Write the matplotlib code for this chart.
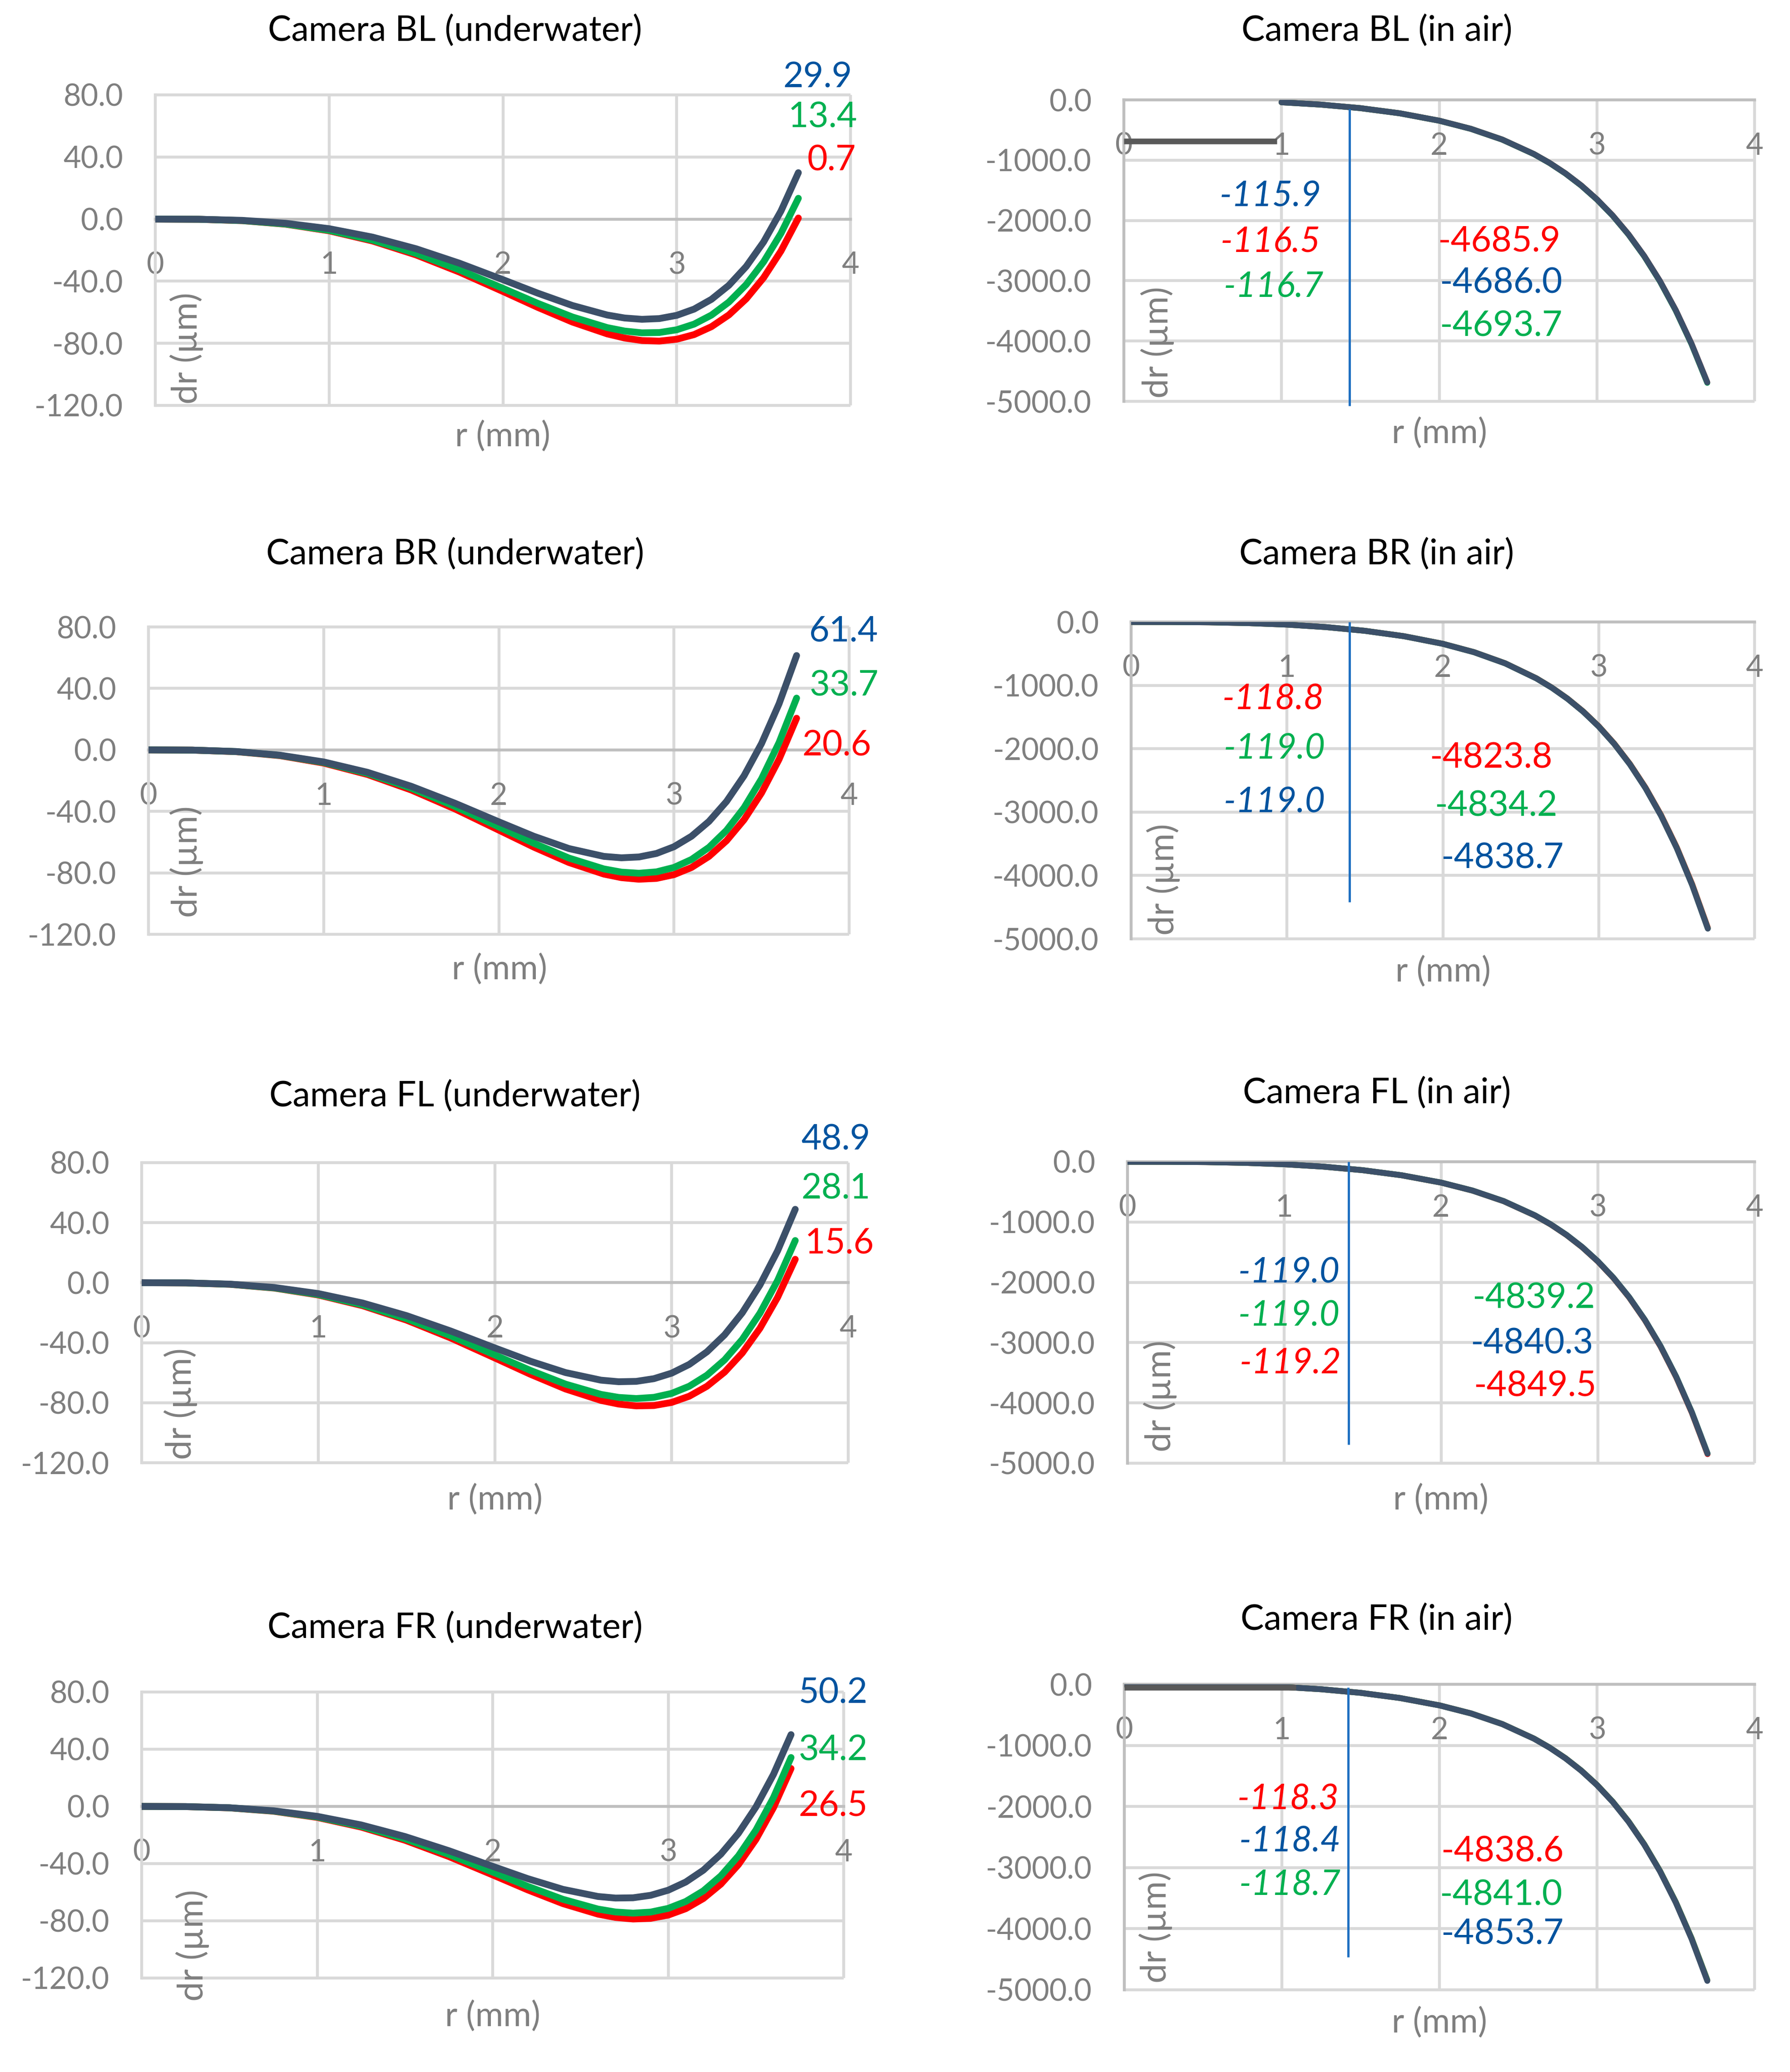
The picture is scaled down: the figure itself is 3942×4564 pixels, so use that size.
import matplotlib
matplotlib.use("Agg")
import matplotlib.pyplot as plt

plt.rcParams['font.family'] = ['Lato', 'DejaVu Sans']

# ---------------- data ----------------
R = [0, 0.25, 0.5, 0.75, 1.0, 1.25, 1.5, 1.75, 2.0, 2.2, 2.4, 2.6, 2.7, 2.8, 2.9,
     3.0, 3.1, 3.2, 3.3, 3.4, 3.5, 3.6, 3.7]
R_BL_AIR = [1.0, 1.25, 1.5, 1.75, 2.0, 2.2, 2.4, 2.6, 2.7, 2.8, 2.9,
            3.0, 3.1, 3.2, 3.3, 3.4, 3.5, 3.6, 3.7]

# underwater (um)
BL_UW_DARK = [0, -0.10, -0.81, -2.68, -6.17, -11.61, -19.09, -28.41, -39.00, -47.68, -55.65, -61.78,
              -63.69, -64.54, -64.07, -61.99, -57.98, -51.67, -42.67, -30.52, -14.74, 5.21, 29.9]
BL_UW_GREEN = [0, -0.12, -0.96, -3.16, -7.25, -13.56, -22.15, -32.72, -44.60, -54.24, -63.05, -69.88,
               -72.10, -73.24, -73.06, -71.29, -67.65, -61.82, -53.46, -42.17, -27.56, -9.18, 13.4]
BL_UW_RED = [0, -0.13, -1.00, -3.29, -7.54, -14.11, -23.06, -34.12, -46.60, -56.82, -66.31, -73.93,
             -76.59, -78.22, -78.57, -77.39, -74.40, -69.29, -61.73, -51.35, -37.77, -20.56, 0.7]

BR_UW_DARK = [0, -0.13, -1.04, -3.42, -7.83, -14.58, -23.68, -34.73, -46.80, -56.21, -64.19, -69.30,
              -70.21, -69.67, -67.39, -63.02, -56.19, -46.52, -33.56, -16.84, 4.17, 30.04, 61.4]
BR_UW_GREEN = [0, -0.14, -1.08, -3.56, -8.17, -15.28, -24.94, -36.82, -50.10, -60.78, -70.37, -77.47,
               -79.54, -80.26, -79.36, -76.49, -71.31, -63.40, -52.34, -37.63, -18.78, 4.80, 33.7]
BR_UW_RED = [0, -0.14, -1.14, -3.74, -8.57, -16.00, -26.08, -38.43, -52.20, -63.27, -73.27, -80.82,
             -83.14, -84.16, -83.62, -81.18, -76.53, -69.30, -59.09, -45.46, -27.98, -6.12, 20.6]

FL_UW_DARK = [0, -0.12, -0.96, -3.17, -7.26, -13.52, -21.97, -32.23, -43.50, -52.32, -59.91, -64.95,
              -66.00, -65.76, -63.96, -60.30, -54.46, -46.08, -34.76, -20.08, -1.58, 21.23, 48.9]
FL_UW_GREEN = [0, -0.13, -1.04, -3.44, -7.89, -14.75, -24.05, -35.47, -48.20, -58.43, -67.62, -74.44,
               -76.45, -77.19, -76.41, -73.79, -69.01, -61.68, -51.43, -37.82, -20.36, 1.43, 28.1]
FL_UW_RED = [0, -0.14, -1.08, -3.57, -8.19, -15.30, -24.97, -36.87, -50.20, -61.00, -70.86, -78.45,
             -80.89, -82.11, -81.86, -79.81, -75.66, -69.05, -59.60, -46.88, -30.44, -9.80, 15.6]

FR_UW_DARK = [0, -0.12, -0.92, -3.02, -6.93, -12.93, -21.05, -30.96, -41.90, -50.52, -57.98, -62.98,
              -64.07, -63.88, -62.16, -58.60, -52.88, -44.62, -33.41, -18.83, -0.40, 22.42, 50.2]
FR_UW_GREEN = [0, -0.12, -0.97, -3.21, -7.38, -13.83, -22.66, -33.59, -45.90, -55.89, -64.96, -71.78,
               -73.83, -74.63, -73.89, -71.30, -66.49, -59.08, -48.60, -34.59, -16.52, 6.20, 34.2]
FR_UW_RED = [0, -0.13, -1.01, -3.35, -7.70, -14.43, -23.64, -35.04, -47.90, -58.38, -67.96, -75.32,
             -77.64, -78.72, -78.28, -75.99, -71.51, -64.43, -54.33, -40.72, -23.10, -0.89, 26.5]

# in air (um)
BL_AIR_DARK = [-40.01, -78.42, -137.05, -222.59, -345.0, -479.47, -658.46, -897.70, -1046.35, -1218.62,
               -1418.35, -1649.96, -1918.48, -2229.67, -2590.04, -3006.99, -3488.84, -4044.99, -4686.0]
BL_AIR_RED = [-40.0, -78.4, -137.1, -222.6, -345.1, -479.5, -658.5, -897.7, -1046.3, -1218.6,
              -1418.3, -1649.9, -1918.4, -2229.6, -2590.0, -3006.9, -3488.8, -4044.9, -4685.9]
BL_AIR_GREEN = [-40.1, -78.6, -137.3, -222.9, -345.5, -480.1, -659.3, -898.8, -1047.6, -1220.1,
                -1420.1, -1652.0, -1920.9, -2232.6, -2593.6, -3011.4, -3494.3, -4051.6, -4693.7]

BR_AIR_DARK = [0, -0.66, -5.29, -17.70, -41.60, -80.77, -139.69, -224.57, -345.0, -477.00, -653.25,
               -890.50, -1039.0, -1212.13, -1414.14, -1649.96, -1925.24, -2246.47, -2621.05, -3057.45,
               -3565.11, -4154.83, -4838.7]
BR_AIR_RED = [0, -0.66, -5.28, -17.68, -41.55, -80.68, -139.5, -224.2, -344.4, -476.1, -651.9,
              -888.6, -1036.7, -1209.2, -1410.5, -1645.4, -1919.5, -2239.4, -2612.3, -3046.8,
              -3552.3, -4139.5, -4823.8]
BR_AIR_GREEN = [0, -0.66, -5.29, -17.70, -41.59, -80.75, -139.65, -224.5, -344.8, -476.8, -652.9,
                -890.0, -1038.3, -1211.2, -1413.0, -1648.5, -1923.4, -2244.2, -2618.3, -3054.1,
                -3561.0, -4149.9, -4834.2]

FL_AIR_DARK = [0, -0.67, -5.29, -17.71, -41.62, -80.80, -139.74, -224.64, -345.1, -477.1, -653.3,
               -890.5, -1039.0, -1212.1, -1414.1, -1649.98, -1925.3, -2246.7, -2621.4, -3058.0,
               -3565.96, -4156.0, -4840.3]
FL_AIR_GREEN = [0, -0.67, -5.29, -17.71, -41.62, -80.80, -139.74, -224.64, -345.1, -477.1, -653.3,
                -890.5, -1039.0, -1212.1, -1414.1, -1650.0, -1925.2, -2246.6, -2621.2, -3057.7,
                -3565.5, -4155.2, -4839.2]
FL_AIR_RED = [0, -0.67, -5.30, -17.74, -41.70, -80.95, -140.0, -225.0, -345.7, -477.9, -654.4,
              -891.9, -1040.7, -1214.1, -1416.5, -1652.8, -1928.7, -2250.9, -2626.4, -3064.0,
              -3573.1, -4164.3, -4849.5]

FR_AIR_DARK = [0, -0.67, -5.32, -17.78, -41.76, -81.00, -139.95, -224.77, -345.0, -476.76, -652.75,
               -889.81, -1038.30, -1211.51, -1413.75, -1649.99, -1925.93, -2248.15, -2624.14, -3062.46,
               -3572.65, -4165.67, -4853.7]
FR_AIR_RED = [0, -0.67, -5.31, -17.75, -41.70, -80.90, -139.8, -224.5, -344.6, -476.1, -651.8,
              -888.4, -1036.6, -1209.4, -1411.2, -1646.9, -1922.1, -2243.5, -2618.4, -3055.4,
              -3564.0, -4155.2, -4838.6]
FR_AIR_GREEN = [0, -0.67, -5.31, -17.76, -41.72, -80.93, -139.85, -224.6, -344.7, -476.3, -652.0,
                -888.7, -1036.9, -1209.8, -1411.7, -1647.5, -1922.8, -2244.4, -2619.5, -3056.6,
                -3565.5, -4157.0, -4841.0]

# gray segments seen in two in-air panels: (x0, x1, y)
BL_AIR_GRAY = (0.0, 0.97, -686.0)
FR_AIR_GRAY = (0.0, 1.09, -49.0)

# vertical marker lines (x, y_top, y_bottom)
BL_AIR_VLINE = (1.43, -150, -5075)
BR_AIR_VLINE = (1.40, 0, -4420)
FL_AIR_VLINE = (1.41, 0, -4690)
FR_AIR_VLINE = (1.42, -49, -4468)

# value labels: (text, x, y, series, italic)
BL_UW_LABELS = [("29.9", 3.81, 91.0, 'dark', False), ("13.4", 3.84, 65.3, 'green', False),
                ("0.7", 3.89, 37.6, 'red', False)]
BR_UW_LABELS = [("61.4", 3.97, 77.0, 'dark', False), ("33.7", 3.97, 41.5, 'green', False),
                ("20.6", 3.93, 2.7, 'red', False)]
FL_UW_LABELS = [("48.9", 3.93, 95.0, 'dark', False), ("28.1", 3.93, 62.3, 'green', False),
                ("15.6", 3.95, 26.2, 'red', False)]
FR_UW_LABELS = [("50.2", 3.94, 79.0, 'dark', False), ("34.2", 3.94, 39.0, 'green', False),
                ("26.5", 3.94, 0.0, 'red', False)]
BL_AIR_LABELS = [("-115.9", 0.93, -1600, 'dark', True), ("-116.5", 0.93, -2355, 'red', True),
                 ("-116.7", 0.95, -3100, 'green', True), ("-4685.9", 2.38, -2355, 'red', False),
                 ("-4686.0", 2.39, -3040, 'dark', False), ("-4693.7", 2.39, -3760, 'green', False)]
BR_AIR_LABELS = [("-118.8", 0.91, -1220, 'red', True), ("-119.0", 0.92, -2003, 'green', True),
                 ("-119.0", 0.92, -2848, 'dark', True), ("-4823.8", 2.31, -2150, 'red', False),
                 ("-4834.2", 2.34, -2905, 'green', False), ("-4838.7", 2.38, -3735, 'dark', False)]
FL_AIR_LABELS = [("-119.0", 1.03, -1838, 'dark', True), ("-119.0", 1.03, -2560, 'green', True),
                 ("-119.2", 1.04, -3350, 'red', True), ("-4839.2", 2.59, -2270, 'green', False),
                 ("-4840.3", 2.58, -3020, 'dark', False), ("-4849.5", 2.60, -3730, 'red', False)]
FR_AIR_LABELS = [("-118.3", 1.04, -1882, 'red', True), ("-118.4", 1.05, -2578, 'dark', True),
                 ("-118.7", 1.05, -3290, 'green', True), ("-4838.6", 2.40, -2741, 'red', False),
                 ("-4841.0", 2.39, -3453, 'green', False), ("-4853.7", 2.40, -4092, 'dark', False)]

TITLES = ["Camera BL (underwater)", "Camera BL (in air)",
          "Camera BR (underwater)", "Camera BR (in air)",
          "Camera FL (underwater)", "Camera FL (in air)",
          "Camera FR (underwater)", "Camera FR (in air)"]
XTICKS = [0, 1, 2, 3, 4]
UW_YTICKS = [-120, -80, -40, 0, 40, 80]
AIR_YTICKS = [-5000, -4000, -3000, -2000, -1000, 0]
XLABEL = "r (mm)"
YLABEL = "dr (µm)"

# ---------------- style ----------------
CURVE_COL = {'red': '#FF0000', 'green': '#00B050', 'dark': '#3C5069'}
TEXT_COL = {'red': '#FF0000', 'green': '#00B050', 'dark': '#00539F'}
GRID_COL = '#D9D9D9'
AXIS_COL = '#BFBFBF'
TICK_COL = '#7F7F7F'

W, H, DPI = 3942, 4564, 300
fig = plt.figure(figsize=(W / DPI, H / DPI), dpi=DPI)
fig.patch.set_facecolor('white')

# layout in pixels: axes (L, R, T, B), title (x, y), xlabel (x, y), ylabel (x, y)
LAYOUT = [
    ((342, 1873, 209, 893), (1002, 68), (1107, 961), (411, 767)),
    ((2475, 3864, 220, 884), (3032, 68), (3170, 954), (2549, 754)),
    ((327, 1870, 1381, 2058), (1002, 1221), (1100, 2135), (411, 1898)),
    ((2491, 3864, 1370, 2068), (3032, 1221), (3178, 2140), (2562, 1937)),
    ((312, 1868, 2561, 3222), (1002, 2415), (1090, 3303), (398, 3092)),
    ((2483, 3864, 2559, 3223), (3032, 2408), (3173, 3303), (2555, 3075)),
    ((312, 1858, 3727, 4357), (1002, 3586), (1085, 4441), (424, 4285)),
    ((2476, 3864, 3710, 4383), (3032, 3568), (3170, 4455), (2545, 4245)),
]

PANELS = [
    ('uw', R, (BL_UW_RED, BL_UW_GREEN, BL_UW_DARK), BL_UW_LABELS, None, None),
    ('air', R_BL_AIR, (BL_AIR_RED, BL_AIR_GREEN, BL_AIR_DARK), BL_AIR_LABELS, BL_AIR_VLINE, BL_AIR_GRAY),
    ('uw', R, (BR_UW_RED, BR_UW_GREEN, BR_UW_DARK), BR_UW_LABELS, None, None),
    ('air', R, (BR_AIR_RED, BR_AIR_GREEN, BR_AIR_DARK), BR_AIR_LABELS, BR_AIR_VLINE, None),
    ('uw', R, (FL_UW_RED, FL_UW_GREEN, FL_UW_DARK), FL_UW_LABELS, None, None),
    ('air', R, (FL_AIR_RED, FL_AIR_GREEN, FL_AIR_DARK), FL_AIR_LABELS, FL_AIR_VLINE, None),
    ('uw', R, (FR_UW_RED, FR_UW_GREEN, FR_UW_DARK), FR_UW_LABELS, None, None),
    ('air', R, (FR_AIR_RED, FR_AIR_GREEN, FR_AIR_DARK), FR_AIR_LABELS, FR_AIR_VLINE, FR_AIR_GRAY),
]

GRID_LW = 1.55


def fx(px):
    return px / W


def fy(py):
    return 1 - py / H


for i, (kind, rr, curves, labels, vline, gray) in enumerate(PANELS):
    (L, Rr, T, B), tpos, xlpos, ylpos = LAYOUT[i]
    ax = fig.add_axes([fx(L), fy(B), (Rr - L) / W, (B - T) / H])
    ax.set_facecolor('none')
    yticks = UW_YTICKS if kind == 'uw' else AIR_YTICKS
    ymin, ymax = yticks[0], yticks[-1]
    ax.set_xlim(XTICKS[0], XTICKS[-1])
    ax.set_ylim(ymin, ymax)

    for s in ['top', 'right']:
        ax.spines[s].set_visible(False)
    ax.spines['bottom'].set_position(('data', 0))
    ax.spines['bottom'].set_color(AXIS_COL)
    ax.spines['bottom'].set_linewidth(GRID_LW)
    ax.spines['left'].set_color(GRID_COL if kind == 'uw' else AXIS_COL)
    ax.spines['left'].set_linewidth(GRID_LW)

    ax.set_xticks(XTICKS)
    ax.set_xticklabels([str(t) for t in XTICKS])
    ax.set_yticks(yticks)
    ax.set_yticklabels([f"{v:.1f}" for v in yticks])
    ax.tick_params(axis='both', length=0, labelsize=16, labelcolor=TICK_COL)
    ax.tick_params(axis='x', pad=17)
    ax.tick_params(axis='y', pad=17)

    # gridlines
    for t in XTICKS[1:]:
        ax.plot([t, t], [ymin, ymax], color=GRID_COL, lw=GRID_LW, zorder=0.5,
                clip_on=False, solid_capstyle='butt')
    for v in yticks:
        if v != 0:
            ax.plot([XTICKS[0], XTICKS[-1]], [v, v], color=GRID_COL, lw=GRID_LW,
                    zorder=0.5, clip_on=False, solid_capstyle='butt')

    lw = 3.6 if kind == 'uw' else 3.1
    for name, vals in zip(('red', 'green', 'dark'), curves):
        ax.plot(rr, vals, color=CURVE_COL[name], lw=lw, solid_capstyle='round',
                solid_joinstyle='round', zorder=3)

    if gray is not None:
        ax.plot([gray[0], gray[1]], [gray[2], gray[2]], color='#595959', lw=3.0,
                solid_capstyle='butt', zorder=5)

    if vline is not None:
        ax.plot([vline[0], vline[0]], [vline[1], vline[2]], color='#1F70C1', lw=1.2,
                zorder=4, clip_on=False, solid_capstyle='butt')

    for txt, x, y, ser, ital in labels:
        ax.text(x, y, txt, color=TEXT_COL[ser], fontsize=18.5, ha='center', va='center',
                style='italic' if ital else 'normal', zorder=6)

    fig.text(fx(tpos[0]), fy(tpos[1]), TITLES[i], fontsize=18.5, color='black',
             ha='center', va='center')
    fig.text(fx(xlpos[0]), fy(xlpos[1]), XLABEL, fontsize=18, color=TICK_COL,
             ha='center', va='center')
    fig.text(fx(ylpos[0]), fy(ylpos[1]), YLABEL, fontsize=18.5, color=TICK_COL,
             ha='center', va='center', rotation=90)

fig.savefig('out.png', dpi=DPI, facecolor='white')
